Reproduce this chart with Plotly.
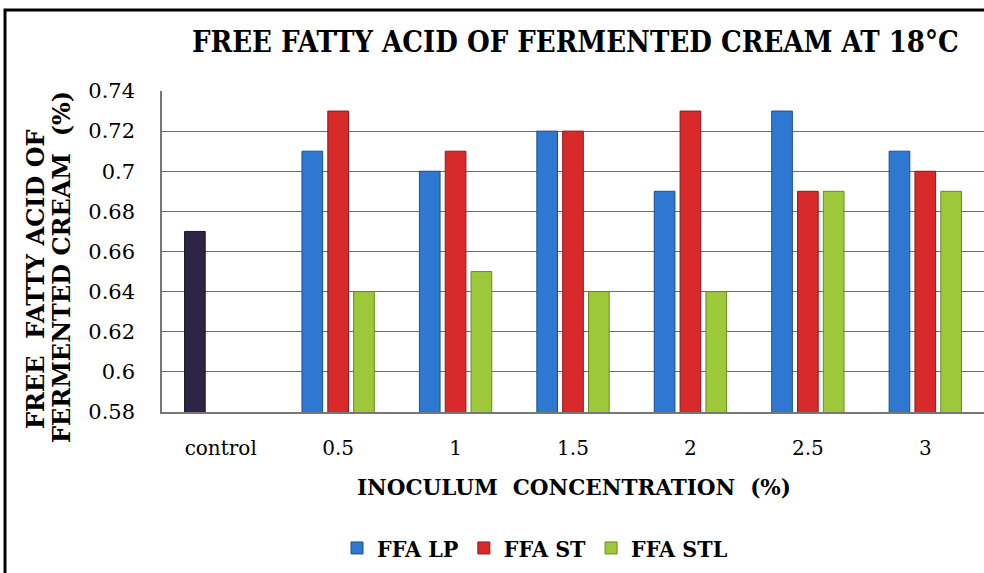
import plotly.graph_objects as go

categories = ["control", "0.5", "1", "1.5", "2", "2.5", "3"]
control_vals = [0.67, None, None, None, None, None, None]
ffa_lp = [None, 0.71, 0.70, 0.72, 0.69, 0.73, 0.71]
ffa_st = [None, 0.73, 0.71, 0.72, 0.73, 0.69, 0.70]
ffa_stl = [None, 0.64, 0.65, 0.64, 0.64, 0.69, 0.69]
y_ticks = [0.58, 0.60, 0.62, 0.64, 0.66, 0.68, 0.70, 0.72, 0.74]
y_tick_text = ["0.58", "0.6", "0.62", "0.64", "0.66", "0.68", "0.7", "0.72", "0.74"]

SERIF = "DejaVu Serif"
SERIF_C = "DejaVu Serif Condensed, DejaVu Serif"

# plot area target: x 162..984, y 91..412 (body margin removed by post_script)
L, T, R, B = 162, 91, 0, 161
PW = 984 - L - R
PH = 573 - T - B


def px(x):
    return (x - 162) / PW


def py(y):
    return (412 - y) / PH


fig = go.Figure()
fig.add_trace(go.Bar(x=categories, y=control_vals, name="control", showlegend=False,
                     offsetgroup="a", marker=dict(color="#2D2446", line=dict(color="#1a1430", width=1))))
fig.add_trace(go.Bar(x=categories, y=ffa_lp, name="<b>FFA LP</b>", offsetgroup="a",
                     marker=dict(color="#2F78D2", line=dict(color="#1d4f8f", width=1))))
fig.add_trace(go.Bar(x=categories, y=ffa_st, name="<b>FFA ST</b>", offsetgroup="b",
                     marker=dict(color="#D8292B", line=dict(color="#8f1a1a", width=1))))
fig.add_trace(go.Bar(x=categories, y=ffa_stl, name="<b>FFA STL</b>", offsetgroup="c",
                     marker=dict(color="#9DC83A", line=dict(color="#6a8a22", width=1))))

fig.update_layout(
    width=984, height=573,
    margin=dict(l=L, r=R, t=T, b=B),
    paper_bgcolor="white", plot_bgcolor="white",
    barmode="group", bargap=0.34, bargroupgap=0.2,
    font=dict(family=SERIF, color="black"),
    showlegend=True,
    legend=dict(orientation="h", x=px(535), xanchor="center", y=py(548), yanchor="middle",
                font=dict(family=SERIF_C, size=23, color="black"), itemwidth=30,
                traceorder="normal", tracegroupgap=0),
    annotations=[
        dict(text="<b>FREE FATTY ACID OF FERMENTED CREAM AT 18°C</b>", xref="paper", yref="paper",
             x=px(575), y=py(42), xanchor="center", yanchor="middle",
             showarrow=False, font=dict(family=SERIF_C, size=29, color="black")),
        dict(text="<b>INOCULUM  CONCENTRATION  (%)</b>", xref="paper", yref="paper",
             x=px(574), y=py(487), xanchor="center", yanchor="middle",
             showarrow=False, font=dict(family=SERIF, size=21.5, color="black")),
        dict(text="<b>FREE  FATTY ACID OF</b>", xref="paper", yref="paper",
             x=px(35), y=py(279), xanchor="center", yanchor="middle",
             textangle=-90, showarrow=False, font=dict(family=SERIF, size=24, color="black")),
        dict(text="<b>FERMENTED CREAM  (%)</b>", xref="paper", yref="paper",
             x=px(61), y=py(267), xanchor="center", yanchor="middle",
             textangle=-90, showarrow=False, font=dict(family=SERIF, size=24, color="black")),
    ],
    shapes=[
        dict(type="rect", xref="paper", yref="paper", x0=px(5), x1=1.2,
             y0=-0.8, y1=py(10), line=dict(color="black", width=3), layer="below"),
    ],
)
fig.update_xaxes(showline=True, linecolor="#777777", linewidth=1.5, mirror=False,
                 tickfont=dict(family=SERIF, size=20, color="black"), ticks="", showgrid=False,
                 ticklabelstandoff=17)
fig.update_yaxes(range=[0.58, 0.74], tickvals=y_ticks, ticktext=y_tick_text,
                 showgrid=True, gridcolor="#6b6b6b", gridwidth=1.3,
                 showline=True, linecolor="#777777", linewidth=1.5,
                 tickfont=dict(family=SERIF, size=21, color="black"), ticks="", ticklen=0,
                 ticklabelstandoff=21)

fig.write_html("out.html", config={"displayModeBar": False},
               post_script="document.body.style.margin='0';")
